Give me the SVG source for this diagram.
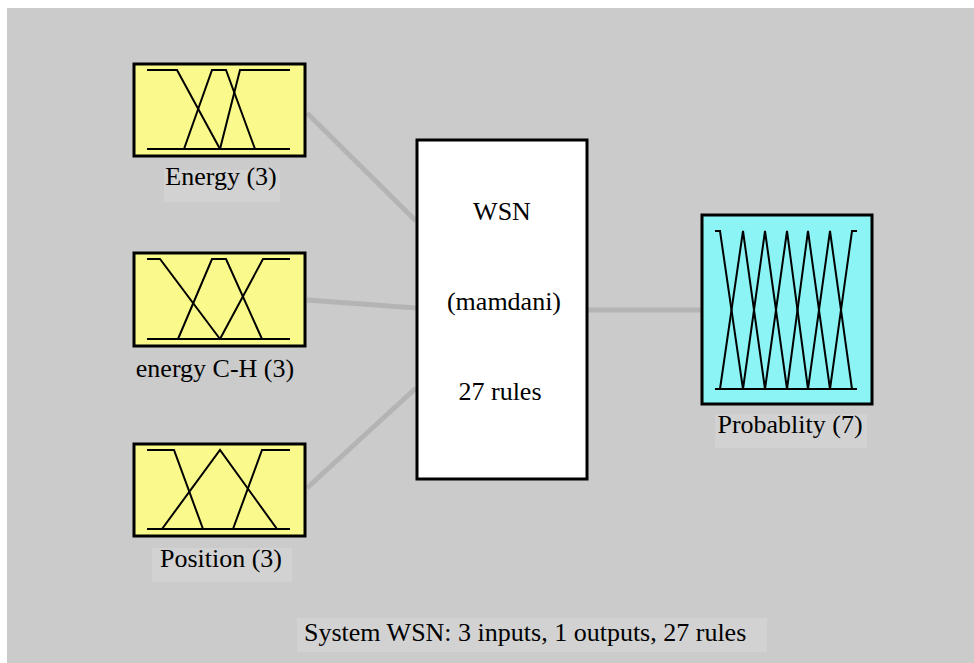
<svg xmlns="http://www.w3.org/2000/svg" width="974" height="663" viewBox="0 0 974 663">
<style>
.bg{fill:#cbcbcb}
.lblbg{fill:#d2d2d2}
.box{stroke:#000;stroke-width:3}
.in{fill:#fafa8c}
.out{fill:#8cf4f4}
.mf{fill:none;stroke:#000;stroke-width:2}
.base{fill:none;stroke:#000;stroke-width:2}
.conn{stroke:#b4b4b4;stroke-width:5;fill:none}
text{font-family:"Liberation Serif","Times New Roman",serif;font-size:26px;fill:#000}
</style>
<rect width="974" height="663" fill="#ffffff"/>
<rect class="bg" x="7" y="8" width="967" height="655"/>
<g id="connectors">
<line class="conn" x1="307" y1="113" x2="416" y2="221"/>
<line class="conn" x1="307" y1="300" x2="416" y2="308"/>
<line class="conn" x1="307" y1="488" x2="416" y2="388"/>
<line class="conn" x1="588" y1="310" x2="701" y2="310"/>
</g>
<g id="energy">
<rect class="box in" x="134" y="64" width="171" height="92"/>
<polyline class="mf" points="147,70 177,70 220,149"/>
<polyline class="mf" points="184,149 212,70 226,70 255,149"/>
<polyline class="mf" points="220,149 240,70 290,70"/>
<line class="base" x1="147" y1="149" x2="290" y2="149"/>
<rect class="lblbg" x="164" y="170" width="116" height="32"/>
<text x="221" y="185" text-anchor="middle">Energy (3)</text>
</g>
<g id="energyCH">
<rect class="box in" x="134" y="253" width="171" height="93"/>
<polyline class="mf" points="147,259 160,259 220,339"/>
<polyline class="mf" points="178,339 212,259 226,259 262,339"/>
<polyline class="mf" points="220,339 263,259 290,259"/>
<line class="base" x1="147" y1="339" x2="290" y2="339"/>
<text x="215" y="377" text-anchor="middle">energy C-H (3)</text>
</g>
<g id="position">
<rect class="box in" x="134" y="444" width="171" height="92"/>
<polyline class="mf" points="147,450 174,450 203,529"/>
<polyline class="mf" points="162,529 220,450 277,529"/>
<polyline class="mf" points="233,529 262,450 290,450"/>
<line class="base" x1="147" y1="529" x2="290" y2="529"/>
<rect class="lblbg" x="152" y="548" width="140" height="34"/>
<text x="221" y="567" text-anchor="middle">Position (3)</text>
</g>
<g id="wsn">
<rect class="box" x="417" y="140" width="170" height="339" fill="#ffffff"/>
<text x="502" y="220" text-anchor="middle">WSN</text>
<text x="504" y="310" text-anchor="middle">(mamdani)</text>
<text x="500" y="400" text-anchor="middle">27 rules</text>
</g>
<g id="probablity">
<rect class="box out" x="702" y="215" width="170" height="189"/>
<polyline class="mf" points="715,231 720,231 743,389"/>
<polyline class="mf" points="720,389 743,231 765,389"/>
<polyline class="mf" points="743,389 765,231 787,389"/>
<polyline class="mf" points="765,389 787,231 808,389"/>
<polyline class="mf" points="787,389 808,231 830,389"/>
<polyline class="mf" points="808,389 830,231 852,389"/>
<polyline class="mf" points="830,389 852,231 857,231"/>
<line class="base" x1="715" y1="389" x2="857" y2="389"/>
<rect class="lblbg" x="715" y="414" width="152" height="34"/>
<text x="790" y="433" text-anchor="middle">Probablity (7)</text>
</g>
<g id="summary">
<rect class="lblbg" x="297" y="618" width="470" height="34"/>
<text x="304" y="641">System WSN: 3 inputs, 1 outputs, 27 rules</text>
</g>
</svg>
